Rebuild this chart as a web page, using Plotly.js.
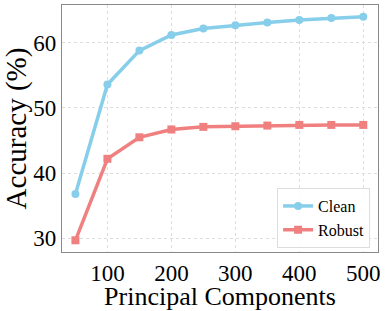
<!DOCTYPE html>
<html><head><meta charset="utf-8">
<script src="https://cdn.plot.ly/plotly-3.0.1.min.js"></script>
<style>html,body{margin:0;padding:0;background:#fff}#c{width:389px;height:311px}</style>
</head><body><div id="c"></div>
<script>
const components = [50, 100, 150, 200, 250, 300, 350, 400, 450, 500];
const clean = [36.8, 53.6, 58.8, 61.2, 62.2, 62.7, 63.1, 63.5, 63.8, 64.0];
const robust = [29.7, 42.2, 45.5, 46.7, 47.1, 47.2, 47.3, 47.4, 47.4, 47.4];
const xTicks = [100, 200, 300, 400, 500];
const yTicks = [30, 40, 50, 60];

const font = 'Liberation Serif, Times New Roman, serif';
const traces = [
  {x: components, y: clean, name: 'Clean', mode: 'lines+markers',
   line: {color: '#87CEEB', width: 3.5}, marker: {symbol: 'circle', size: 8, color: '#87CEEB'}},
  {x: components, y: robust, name: 'Robust', mode: 'lines+markers',
   line: {color: '#F08080', width: 3.5}, marker: {symbol: 'square', size: 8, color: '#F08080'}}
];
const axisCommon = {showline: true, mirror: true, linecolor: '#888', linewidth: 1.2,
  showgrid: true, gridcolor: '#ddd', griddash: 'dot', gridwidth: 1, zeroline: false,
  ticks: '', tickfont: {family: font, size: 23, color: '#000'}};
const layout = {
  width: 389, height: 311,
  margin: {l: 62, r: 11, t: 5, b: 59},
  paper_bgcolor: '#fff', plot_bgcolor: '#fff',
  showlegend: true,
  legend: {x: 0.975, y: 0.016, xanchor: 'right', yanchor: 'bottom',
    bordercolor: '#ddd', borderwidth: 1, bgcolor: 'rgba(255,255,255,0.9)',
    tracegroupgap: 0,
    font: {family: font, size: 16, color: '#000'}},
  xaxis: Object.assign({}, axisCommon, {range: [29, 523], tickvals: xTicks,
    title: {text: 'Principal Components', font: {family: font, size: 26, color: '#000'}, standoff: 9}}),
  yaxis: Object.assign({}, axisCommon, {range: [27.9, 65.8], tickvals: yTicks,
    title: {text: 'Accuracy (%)', font: {family: font, size: 29, color: '#000'}, standoff: 4}})
};
Plotly.newPlot('c', traces, layout, {displayModeBar: false, staticPlot: true});
</script></body></html>
